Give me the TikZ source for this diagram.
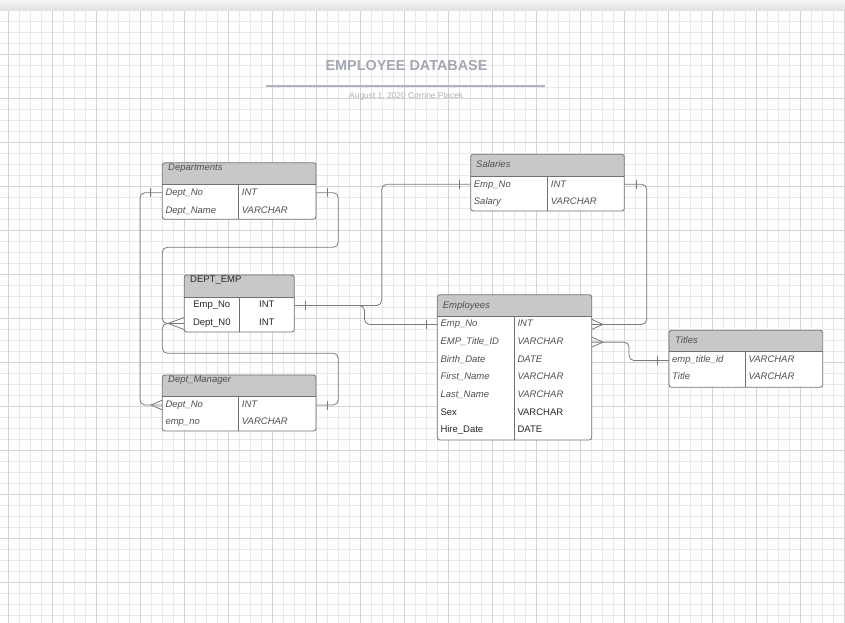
\documentclass[tikz,border=0pt]{standalone}
\usepackage{fontspec}
\setmainfont{Liberation Sans}
\usetikzlibrary{fit,calc}
\definecolor{minorgrid}{HTML}{E9E9E9}
\definecolor{majorgrid}{HTML}{D4D4D4}
\definecolor{hdrcol}{HTML}{C8C8C8}
\definecolor{bordercol}{HTML}{707070}
\definecolor{linecol}{HTML}{7A7A7A}
\definecolor{txtcol}{HTML}{262626}
\definecolor{itcol}{HTML}{505050}
\definecolor{titlecol}{HTML}{A3A7B1}
\definecolor{rulecol}{HTML}{B2B2C2}
\definecolor{subcol}{HTML}{B0B0B0}
\definecolor{bartop}{HTML}{F5F5F6}
\definecolor{barbot}{HTML}{E0E1E4}
\newcommand\ii{\color{itcol}\itshape}
\tikzset{
  tframe/.style={draw=bordercol, line width=0.8pt, rounded corners=2.5pt, inner sep=0pt},
  tline/.style={draw=bordercol, line width=0.8pt},
  rowband/.style={inner sep=0pt},
  celltxt/.style={anchor=base west, inner sep=0pt, text=txtcol, font=\fontsize{9.5}{11}\selectfont},
  cellc/.style={anchor=base, inner sep=0pt, text=txtcol, font=\fontsize{9.5}{11}\selectfont},
  conn/.style={draw=linecol, line width=0.8pt, rounded corners=5pt},
  markline/.style={draw=linecol, line width=0.8pt},
  gridminor/.style={draw=minorgrid, line width=0.9pt},
  gridmajor/.style={draw=majorgrid, line width=0.9pt},
}
% name L T R Hb B D
\newcommand\ertable[7]{%
  \fill[white,rounded corners=2.5pt] (#2,#3) rectangle (#4,#6);
  \begin{scope}
    \clip[rounded corners=2.5pt] (#2,#3) rectangle (#4,#6);
    \fill[hdrcol] (#2,#3) rectangle (#4,#5);
  \end{scope}
  \draw[tline] (#2,#5) -- (#4,#5);
  \draw[tline] (#7,#5) -- (#7,#6);
  \node[tframe, fit={(#2,#3) (#4,#6)}] (#1) {};
}
% name L R D cy baseline left right
\newcommand\errow[8]{%
  \node[rowband, fit={(#2,#5-8) (#3,#5+8)}] (#1) {};
  \node[celltxt] (#1a) at (#2+3,#6) {#7};
  \node[celltxt] (#1b) at (#4+3,#6) {#8};
}
% centred variant
\newcommand\errowc[8]{%
  \node[rowband, fit={(#2,#5-8) (#3,#5+8)}] (#1) {};
  \node[cellc] (#1a) at ({(#2+#4)/2},#6) {#7};
  \node[cellc] (#1b) at ({(#4+#3)/2},#6) {#8};
}
\newcommand\onetick[2]{\draw[markline] ($(#1)+(#2,-4.5)$) -- ($(#1)+(#2,4.5)$);}
\newcommand\crowfoot[3]{\draw[markline] ($(#1)+(0,-#3)$) -- ($(#1)+(#2,0)$) -- ($(#1)+(0,#3)$);}
\begin{document}
\begin{tikzpicture}[x=1pt,y=-1pt]
\useasboundingbox (0,0) rectangle (845,623);
\fill[white] (0,0) rectangle (845,623);
% grid
\foreach \k in {0,...,76}{\draw[gridminor] ({8.7+11*\k},10) -- ({8.7+11*\k},623);}
\foreach \k in {0,...,55}{\draw[gridminor] (0,{10.3+11*\k}) -- (845,{10.3+11*\k});}
\foreach \k in {0,4,...,76}{\draw[gridmajor] ({8.7+11*\k},10) -- ({8.7+11*\k},623);}
\foreach \k in {0,4,...,52}{\draw[gridmajor] (0,{10.3+11*\k}) -- (845,{10.3+11*\k});}
% top bar
\shade[top color=bartop, bottom color=barbot] (0,0) rectangle (845,10.5);

% title block
\node[anchor=base, inner sep=0pt, text=titlecol, font=\bfseries\fontsize{14.4}{16}\selectfont] (title) at (406.5,70.2) {EMPLOYEE DATABASE};
\draw[draw=rulecol, line width=1.1pt] (265.7,86) -- (545,86);
\node[anchor=base, inner sep=0pt, text=subcol, font=\fontsize{8.4}{10}\selectfont] (subtitle) at (406.2,98.3) {August 1, 2020 Corrine Placek};

% Departments
\ertable{dep}{162.3}{162.7}{316}{184}{219.3}{238.7}
\node[celltxt] (dephd) at (168,170.7) {\ii Departments};
\errow{dep1}{162.3}{316}{238.7}{192.7}{195.4}{\ii Dept\_No}{\ii INT}
\errow{dep2}{162.3}{316}{238.7}{210}{213.3}{\ii Dept\_Name}{\ii VARCHAR}

% DEPT_EMP
\ertable{de}{184.3}{275}{294.3}{297.7}{332}{239.3}
\node[celltxt] (dehd) at (190,282) {DEPT\_EMP};
\errowc{de1}{184.3}{294.3}{239.3}{305.5}{307.7}{Emp\_No}{INT}
\errowc{de2}{184.3}{294.3}{239.3}{323.5}{325}{Dept\_N0}{INT}

% Dept_Manager
\ertable{dm}{162.3}{375}{316}{396}{431}{238.7}
\node[celltxt] (dmhd) at (168,382) {\ii Dept\_Manager};
\errow{dm1}{162.3}{316}{238.7}{405}{407.3}{\ii Dept\_No}{\ii INT}
\errow{dm2}{162.3}{316}{238.7}{421.5}{424}{\ii emp\_no}{\ii VARCHAR}

% Salaries
\ertable{sal}{470.7}{154.3}{624.3}{176}{211}{547.7}
\node[celltxt] (salhd) at (476,167.3) {\ii Salaries};
\errow{sal1}{470.7}{624.3}{547.7}{184.3}{187}{\ii Emp\_No}{\ii INT}
\errow{sal2}{470.7}{624.3}{547.7}{201.5}{204}{\ii Salary}{\ii VARCHAR}

% Employees
\ertable{emp}{437.3}{294.7}{591.7}{316.7}{440}{514.3}
\node[celltxt] (emphd) at (442.7,308.3) {\ii Employees};
\errow{emp1}{437.3}{591.7}{514.3}{324.4}{326.7}{\ii Emp\_No}{\ii INT}
\errow{emp2}{437.3}{591.7}{514.3}{342.1}{344.4}{\ii EMP\_Title\_ID}{\ii VARCHAR}
\errow{emp3}{437.3}{591.7}{514.3}{359.7}{362.0}{\ii Birth\_Date}{\ii DATE}
\errow{emp4}{437.3}{591.7}{514.3}{377.4}{379.7}{\ii First\_Name}{\ii VARCHAR}
\errow{emp5}{437.3}{591.7}{514.3}{395.1}{397.4}{\ii Last\_Name}{\ii VARCHAR}
\errow{emp6}{437.3}{591.7}{514.3}{412.7}{415.0}{Sex}{VARCHAR}
\errow{emp7}{437.3}{591.7}{514.3}{430.4}{432.7}{Hire\_Date}{DATE}

% Titles
\ertable{tit}{669}{330.3}{822.7}{351.7}{387.3}{745.3}
\node[celltxt] (tithd) at (675,343.3) {\ii Titles};
\errow{tit1}{669}{822.7}{745.3}{360.5}{362.2}{\ii emp\_title\_id}{\ii VARCHAR}
\errow{tit2}{669}{822.7}{745.3}{377.5}{379.5}{\ii Title}{\ii VARCHAR}

% connectors
\draw[conn] (dep1.west) -- (140,192.7) -- (140,405) -- (dm1.west);
\onetick{dep1.west}{-11.6}
\crowfoot{dm1.west}{-11}{4.8}

\draw[conn] (dep1.east) -- (338.3,192.7) -- (338.3,247.3) -- (162.3,247.3) -- (162.3,323.5) -- (de2.west);
\onetick{dep1.east}{11.3}

\draw[conn] (de2.west) -- (162.3,323.5) -- (162.3,353.3) -- (338.3,353.3) -- (338.3,405) -- (dm1.east);
\onetick{dm1.east}{11.3}
\crowfoot{de2.west}{-16}{6}

\draw[conn] (de1.east) -- (381.7,305.5) -- (381.7,184.3) -- (sal1.west);
\onetick{de1.east}{10.7}
\onetick{sal1.west}{-11.4}

\draw[conn] (de1.east) -- (364.5,305.5) -- (364.5,324.4) -- (emp1.west);
\onetick{emp1.west}{-10.6}

\draw[conn] (sal1.east) -- (646.7,184.3) -- (646.7,324.4) -- (emp1.east);
\onetick{sal1.east}{11.4}
\crowfoot{emp1.east}{11}{5}

\draw[conn] (emp2.east) -- (629,342.1) -- (629,360.5) -- (tit1.west);
\onetick{tit1.west}{-11.7}
\crowfoot{emp2.east}{11}{5}
\end{tikzpicture}
\end{document}
